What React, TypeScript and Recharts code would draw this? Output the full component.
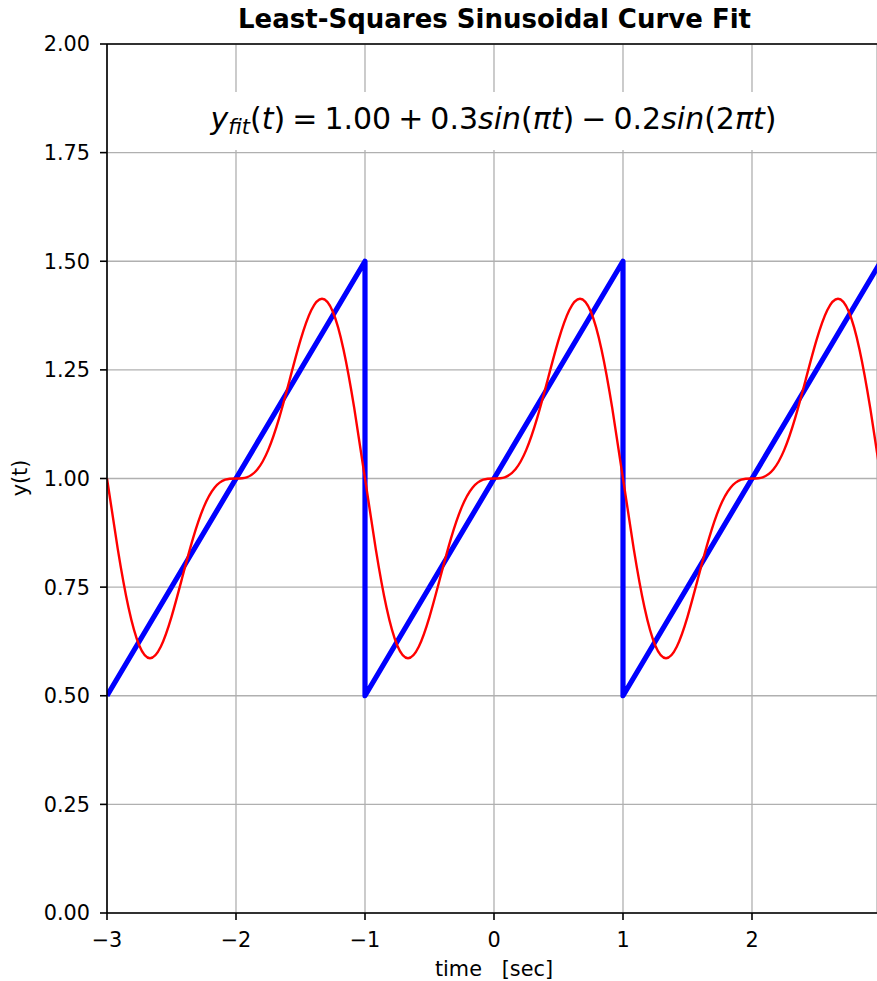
import React from 'react';
import { LineChart, Line, XAxis, YAxis, CartesianGrid, ReferenceLine } from 'recharts';

const tValues = [
  -3, -2.9167, -2.8333, -2.75, -2.6667, -2.5833, -2.5, -2.4167, -2.3333, -2.25, -2.1667, -2.0833,
  -2, -1.9167, -1.8333, -1.75, -1.6667, -1.5833, -1.5, -1.4167, -1.3333, -1.25, -1.1667, -1.0833,
  -1, -0.9167, -0.8333, -0.75, -0.6667, -0.5833, -0.5, -0.4167, -0.3333, -0.25, -0.1667, -0.0833,
  0, 0.0833, 0.1667, 0.25, 0.3333, 0.4167, 0.5, 0.5833, 0.6667, 0.75, 0.8333, 0.9167,
  1, 1.0833, 1.1667, 1.25, 1.3333, 1.4167, 1.5, 1.5833, 1.6667, 1.75, 1.8333, 1.9167,
  2, 2.0833, 2.1667, 2.25, 2.3333, 2.4167, 2.5, 2.5833, 2.6667, 2.75, 2.8333, 2.9167,
  3,
];

const fitValues = [
  1.0, 0.838, 0.7029, 0.6157, 0.5864, 0.6129, 0.6817, 0.7721, 0.8622, 0.9341, 0.9787, 0.9972,
  1.0, 1.0028, 1.0213, 1.0659, 1.1378, 1.2279, 1.3183, 1.3871, 1.4136, 1.3843, 1.2971, 1.162,
  1.0, 0.838, 0.7029, 0.6157, 0.5864, 0.6129, 0.6817, 0.7721, 0.8622, 0.9341, 0.9787, 0.9972,
  1.0, 1.0028, 1.0213, 1.0659, 1.1378, 1.2279, 1.3183, 1.3871, 1.4136, 1.3843, 1.2971, 1.162,
  1.0, 0.838, 0.7029, 0.6157, 0.5864, 0.6129, 0.6817, 0.7721, 0.8622, 0.9341, 0.9787, 0.9972,
  1.0, 1.0028, 1.0213, 1.0659, 1.1378, 1.2279, 1.3183, 1.3871, 1.4136, 1.3843, 1.2971, 1.162,
  1.0,
];

const sawTimes = [-3, -1, -1, 1, 1, 3];
const sawValues = [0.5, 1.5, 0.5, 1.5, 0.5, 1.5];

const xTicks = [-3, -2, -1, 0, 1, 2];
const yTicks = [0, 0.25, 0.5, 0.75, 1, 1.25, 1.5, 1.75, 2];

const titleText = 'Least-Squares Sinusoidal Curve Fit';
const xLabelText = 'time\u00a0\u00a0\u00a0[sec]';
const yLabelText = 'y(t)';

const fitData = tValues.map((t, i) => ({ t, y: fitValues[i] }));
const sawData = sawTimes.map((t, i) => ({ t, y: sawValues[i] }));

const FONT = "'DejaVu Sans', sans-serif";

const fmtX = (v: number) => (v < 0 ? '\u2212' + Math.abs(v) : String(v));
const fmtY = (v: number) => v.toFixed(2);

export default function App() {
  const eqSize = 30;
  const sp = 7;
  const it = { fontStyle: 'italic' as const };
  return (
    <div style={{ position: 'absolute', left: 0, top: 0, width: 877, height: 981, background: '#fff' }}>
      <LineChart width={877} height={981} margin={{ top: 44, right: 0, bottom: 0, left: 0 }}>
        <CartesianGrid stroke="#b0b0b0" strokeWidth={1.3} />
        <XAxis
          dataKey="t"
          type="number"
          domain={[-3, 2.969]}
          allowDataOverflow
          ticks={xTicks}
          interval={0}
          height={68}
          tickSize={7}
          tickMargin={12}
          tickFormatter={fmtX}
          tick={{ fontSize: 20.8, fill: '#000', fontFamily: FONT }}
          axisLine={{ stroke: '#000', strokeWidth: 1.6 }}
          tickLine={{ stroke: '#000', strokeWidth: 1.6 }}
        />
        <YAxis
          type="number"
          domain={[0, 2]}
          ticks={yTicks}
          interval={0}
          width={107}
          tickSize={7}
          tickMargin={10}
          tickFormatter={fmtY}
          tick={{ fontSize: 20.8, fill: '#000', fontFamily: FONT }}
          axisLine={{ stroke: '#000', strokeWidth: 1.6 }}
          tickLine={{ stroke: '#000', strokeWidth: 1.6 }}
        />
        <ReferenceLine y={2} stroke="#000" strokeWidth={1.6} />
        <Line
          data={sawData}
          dataKey="y"
          type="linear"
          stroke="#0000ff"
          strokeWidth={5.2}
          strokeLinejoin="round"
          dot={false}
          activeDot={false}
          isAnimationActive={false}
        />
        <Line
          data={fitData}
          dataKey="y"
          type="natural"
          stroke="#ff0000"
          strokeWidth={2.4}
          dot={false}
          activeDot={false}
          isAnimationActive={false}
        />
      </LineChart>
      <svg
        width={877}
        height={981}
        style={{ position: 'absolute', left: 0, top: 0, pointerEvents: 'none' }}
      >
        <text x={494.5} y={28} textAnchor="middle" fontFamily={FONT} fontWeight="bold" fontSize={26} fill="#000">
          {titleText}
        </text>
        <rect x={196} y={92} width={596} height={58} fill="#fff" />
        <text x={493.5} y={129} textAnchor="middle" fontFamily={FONT} fontSize={eqSize} fill="#000">
          <tspan style={it}>y</tspan>
          <tspan style={it} fontSize={eqSize * 0.7} dy={5}>fit</tspan>
          <tspan dy={-5}>(</tspan>
          <tspan style={it}>t</tspan>
          <tspan>)</tspan>
          <tspan dx={sp}>=</tspan>
          <tspan dx={sp}>1.00</tspan>
          <tspan dx={sp}>+</tspan>
          <tspan dx={sp}>0.3</tspan>
          <tspan style={it}>sin</tspan>
          <tspan>(</tspan>
          <tspan style={it}>πt</tspan>
          <tspan>)</tspan>
          <tspan dx={sp}>−</tspan>
          <tspan dx={sp}>0.2</tspan>
          <tspan style={it}>sin</tspan>
          <tspan>(2</tspan>
          <tspan style={it}>πt</tspan>
          <tspan>)</tspan>
        </text>
        <text x={494} y={976} textAnchor="middle" fontFamily={FONT} fontSize={20.8} fill="#000">
          {xLabelText}
        </text>
        <text
          x={0}
          y={0}
          transform="translate(27,478) rotate(-90)"
          textAnchor="middle"
          fontFamily={FONT}
          fontSize={20.8}
          fill="#000"
        >
          {yLabelText}
        </text>
      </svg>
    </div>
  );
}
